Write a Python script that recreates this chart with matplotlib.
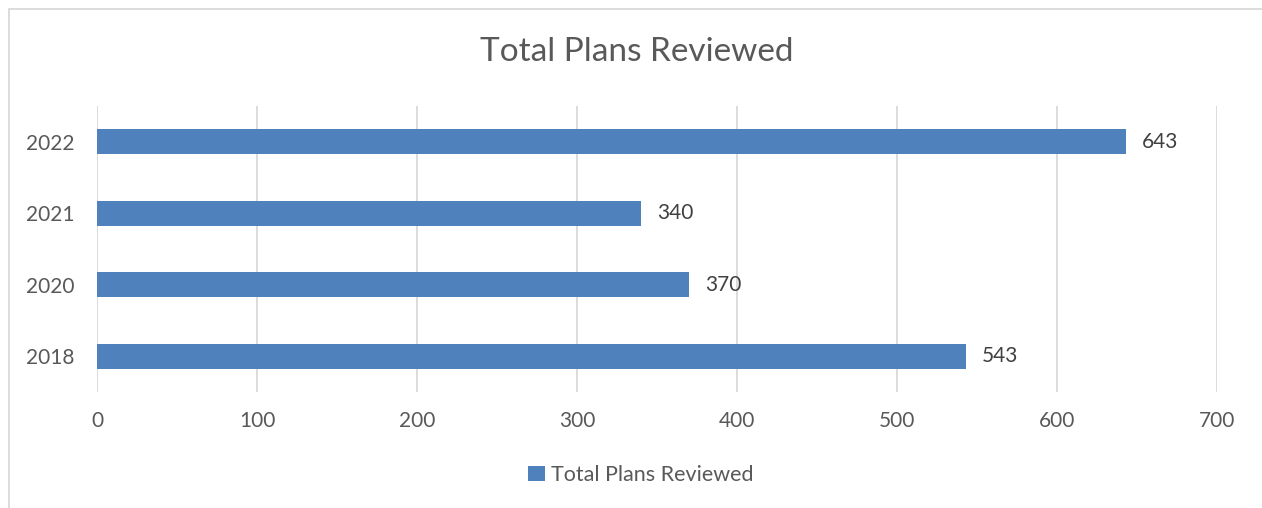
import matplotlib.pyplot as plt
from matplotlib.patches import Rectangle

years = ['2018', '2020', '2021', '2022']
plans = [543, 370, 340, 643]
series_name = 'Total Plans Reviewed'

W, H = 1262, 508
bar_color = '#4F81BD'
text_color = '#595959'
grid_color = '#D9D9D9'

plt.rcParams['font.family'] = ['Lato', 'DejaVu Sans']

fig = plt.figure(figsize=(W / 100, H / 100), dpi=100)
# chart border (only left and top visible in the crop)
fig.patches.append(Rectangle((9 / W, -0.1), 1.1, 1.1 - 9 / H,
                             transform=fig.transFigure, fill=False,
                             edgecolor=grid_color, linewidth=1.3))

ax = fig.add_axes([97 / W, 1 - 392 / H, (1217 - 97) / W, (392 - 106) / H])
y = range(len(years))
ax.barh(y, plans, height=0.35, color=bar_color, label=series_name)
for i, v in enumerate(plans):
    ax.text(v + 10, i, str(v), va='center', ha='left', fontsize=15, color='#404040')

ax.set_xlim(0, 700)
ax.set_ylim(-0.5, len(years) - 0.5)
ax.set_xticks(range(0, 701, 100))
ax.set_yticks(list(y))
ax.set_yticklabels(years)
ax.grid(axis='x', color=grid_color, linewidth=1.3)
ax.set_axisbelow(True)
for s in ax.spines.values():
    s.set_visible(False)
ax.tick_params(length=0, labelsize=15, labelcolor=text_color)
ax.tick_params(axis='x', pad=14)
ax.tick_params(axis='y', pad=16)

fig.text(637 / W, 1 - 52 / H, series_name, ha='center', va='center',
         fontsize=24, color=text_color)
fig.legend(loc='center', bbox_to_anchor=(641 / W, 1 - 475 / H), frameon=False,
           fontsize=15.5, labelcolor=text_color, handlelength=0.75, handleheight=0.75,
           handletextpad=0.3)

fig.savefig('out.png', dpi=100)
